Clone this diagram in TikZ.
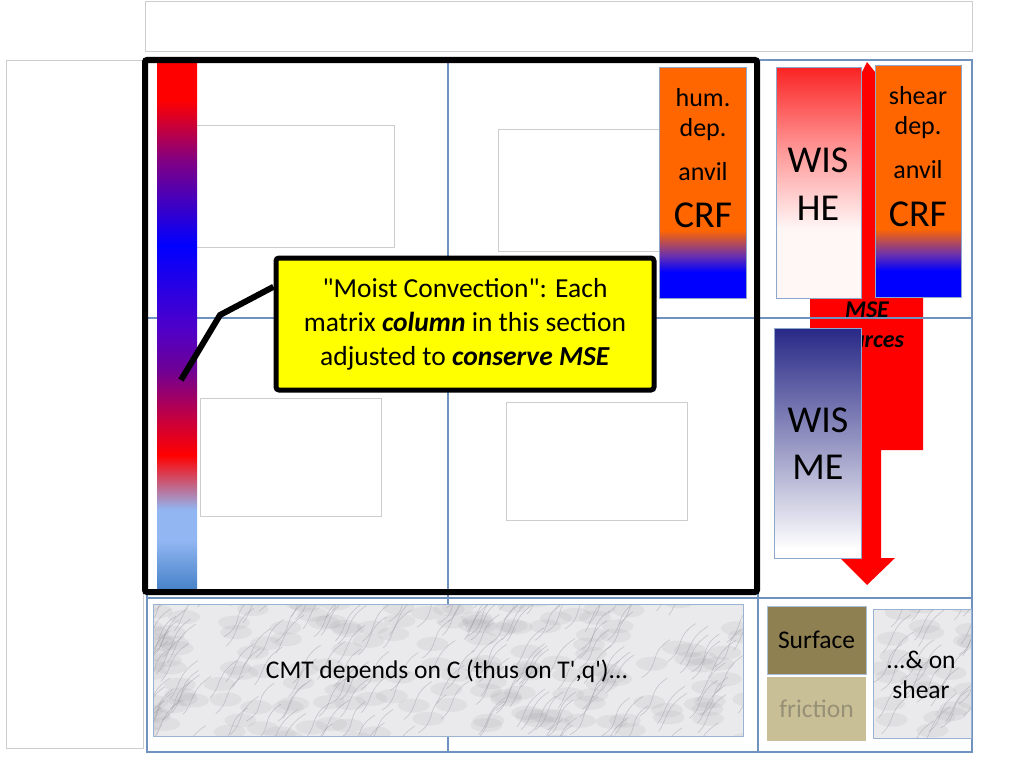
\documentclass[tikz,border=0pt]{standalone}
\usepackage{fontspec}
\setmainfont{Carlito}
\usepackage{tikz}
\usetikzlibrary{positioning}
\definecolor{gridblue}{RGB}{112,146,190}
\definecolor{plotgray}{RGB}{205,205,205}
\definecolor{calloutyellow}{RGB}{255,255,0}
\definecolor{crforange}{RGB}{255,102,0}
\definecolor{crfblue}{RGB}{0,0,255}
\definecolor{crfpurple}{RGB}{110,50,170}
\definecolor{msered}{RGB}{255,0,0}
\definecolor{wisnavy}{RGB}{40,40,135}
\definecolor{wismid}{RGB}{150,150,195}
\definecolor{hered}{RGB}{250,35,35}
\definecolor{hepink}{RGB}{255,140,140}
\definecolor{hewhite}{RGB}{255,246,246}
\definecolor{barsteel}{RGB}{70,130,200}
\definecolor{barsky}{RGB}{145,182,242}
\definecolor{barcrimson}{RGB}{200,0,60}
\definecolor{barplum}{RGB}{110,0,150}
\definecolor{barindigo}{RGB}{80,0,200}
\definecolor{barmagenta}{RGB}{130,0,130}
\definecolor{surfolive}{RGB}{143,128,82}
\definecolor{frickhaki}{RGB}{201,191,150}
\definecolor{frictext}{RGB}{150,144,118}
\definecolor{marblebase}{RGB}{234,234,236}
\definecolor{marblevein}{RGB}{150,150,158}

% colour bar of the moist convection block
\pgfdeclareverticalshading{convbar}{100bp}{%
  color(0bp)=(barsteel);
  color(25bp)=(barsteel);
  color(29.7bp)=(barsky);
  color(32.6bp)=(barsky);
  color(37.8bp)=(red);
  color(41.1bp)=(barcrimson);
  color(45.9bp)=(barplum);
  color(49.7bp)=(barindigo);
  color(57.7bp)=(blue);
  color(65.8bp)=(barmagenta);
  color(71.5bp)=(red);
  color(100bp)=(red)}
\pgfdeclareverticalshading{crfbar}{100bp}{%
  color(0bp)=(crfblue);
  color(30.6bp)=(crfblue);
  color(34.3bp)=(crfpurple);
  color(39.7bp)=(crforange);
  color(100bp)=(crforange)}
\pgfdeclareverticalshading{hebar}{100bp}{%
  color(0bp)=(hewhite);
  color(40bp)=(hewhite);
  color(59bp)=(hepink);
  color(75bp)=(hered);
  color(100bp)=(hered)}
\pgfdeclareverticalshading{mebar}{100bp}{%
  color(0bp)=(white);
  color(27bp)=(white);
  color(50bp)=(wismid);
  color(75bp)=(wisnavy);
  color(100bp)=(wisnavy)}

\tikzset{
  gridline/.style={draw=gridblue,line width=1.5pt},
  plotbox/.style={draw=plotgray,fill=white,line width=0.8pt},
  barbox/.style={draw=gridblue!80,line width=0.8pt},
  bartext/.style={font=\fontsize{26}{28}\selectfont,inner sep=0pt},
  bigtext/.style={font=\fontsize{38}{40}\selectfont,inner sep=0pt},
  msetext/.style={font=\fontsize{24}{26}\selectfont\bfseries\itshape,inner sep=0pt},
  rowtext/.style={font=\fontsize{25.5}{30}\selectfont},
}

% marble-like fill of a box
\newcommand\marblebox[4]{%
  \fill[marblebase] (#1,#2) rectangle (#3,#4);
  \begin{scope}
    \clip (#1,#2) rectangle (#3,#4);
    \pgfmathsetmacro\mbw{#3-#1}
    \pgfmathsetmacro\mbh{#4-#2}
    \pgfmathsetmacro\mbn{int((\mbw/20)*(\mbh/20))}
    \foreach \k in {1,...,\mbn}{
      \pgfmathsetmacro\mx{#1-20+rnd*(\mbw+20)}
      \pgfmathsetmacro\my{#2+rnd*(\mbh+30)}
      \pgfmathsetmacro\mo{8+rnd*14}
      \fill[marblevein,opacity=0.12] (\mx+10,\my-14) ellipse (16pt and 7pt);
      \draw[marblevein,line width=0.6pt,opacity=0.45]
        (\mx,\my) .. controls (\mx+\mo,\my-12) and (\mx+6,\my-24) .. (\mx+28,\my-38);
    }
  \end{scope}
  \draw[gridblue!70,line width=0.8pt] (#1,#2) rectangle (#3,#4);
}

\begin{document}
\begin{tikzpicture}[x=1pt,y=-1pt]
\pgfmathsetseed{11}
\useasboundingbox[fill=white] (0,0) rectangle (1024,768);

% outer placeholder frames
\draw[plotgray,line width=0.8pt] (145,1) rectangle (972,51);
\draw[plotgray,line width=0.8pt] (6,60) rectangle (143,748);

% MSE sources arrow
\fill[msered] (867,62) -- (875,72) -- (875,296) -- (923,296) -- (923,450)
  -- (881,450) -- (881,558) -- (895,558) -- (867,585) -- (840,558)
  -- (853,558) -- (853,450) -- (810,450) -- (810,296) -- (862,296)
  -- (862,72) -- cycle;
\node (mse) [msetext] at (867,310) {MSE};
\node (sources) [msetext] at (867,342) {sources};

% matrix grid
\draw[gridline] (147,60) rectangle (972,752);
\draw[gridline] (147,318) -- (972,318);
\draw[gridline] (147,598) -- (972,598);
\draw[gridline] (448,60) -- (448,752);
\draw[gridline] (758,60) -- (758,752);

% empty plot placeholders
\draw[plotbox] (189,125) rectangle (394,247);
\draw[plotbox] (498,129) rectangle (670,251);
\draw[plotbox] (200,398) rectangle (381,516);
\draw[plotbox] (506,402) rectangle (687,520);

% colour bar
\shade[shading=convbar] (157,63) rectangle (197,590);

% CRF bars
\draw[barbox,shading=crfbar] (659,67) rectangle (746,298);
\draw[barbox,shading=crfbar] (875,65) rectangle (961,297);
\node (humA) [bartext] at (703,98) {hum.};
\node (depA) [bartext] at (703,130) {dep.};
\node (anvilA) [bartext] at (703,172) {anvil};
\node (crfA) [bigtext] at (703,215) {CRF};
\node (shearB) [bartext] at (918,96) {shear};
\node (depB) [bartext] at (918,128) {dep.};
\node (anvilB) [bartext] at (918,170) {anvil};
\node (crfB) [bigtext] at (918,214) {CRF};

% WISHE and WISME
\draw[barbox,shading=hebar] (776,67) rectangle (861,298);
\node (wisA) [bigtext] at (818,160) {WIS};
\node (he) [bigtext] at (818,208) {HE};
\draw[barbox,shading=mebar] (774,328) rectangle (861,558);
\node (wisB) [bigtext] at (818,420) {WIS};
\node (me) [bigtext] at (818,467) {ME};

% moist convection block
\draw[line width=6pt,rounded corners=2pt] (145,60) rectangle (757,592);

\coordinate (bend) at (220,315);
\coordinate (bartip) at (181,380);
\node (callout) [fill=calloutyellow,draw=black,line width=5pt,rounded corners=3pt,
  minimum width=378pt,minimum height=132pt,align=center,
  font=\fontsize{27.5}{34}\selectfont] at (465,324)
{\textquotedbl Moist Convection\textquotedbl: Each\\
matrix \textbf{\textit{column}} in this section\\
adjusted to \textbf{\textit{conserve MSE}}};
\draw[line width=6pt] (callout.169) -- (bend) -- (bartip);

% bottom row
\marblebox{153}{604}{743}{736}
\node (cmt) [rowtext] at (447,671) {CMT depends on C (thus on T\textquotesingle,q\textquotesingle)...};
\node (surface) [rowtext,fill=surfolive,draw=gridblue!60,line width=0.8pt,minimum width=99pt,
  minimum height=68pt] at (816.5,640) {Surface};
\node (friction) [rowtext,fill=frickhaki,minimum width=99pt,minimum height=64pt,
  text=frictext] at (816.5,709) {friction};
\marblebox{873}{609}{971}{738}
\node (shearon) [rowtext,align=center] at (921,675) {...\& on\\shear};
\end{tikzpicture}
\end{document}
